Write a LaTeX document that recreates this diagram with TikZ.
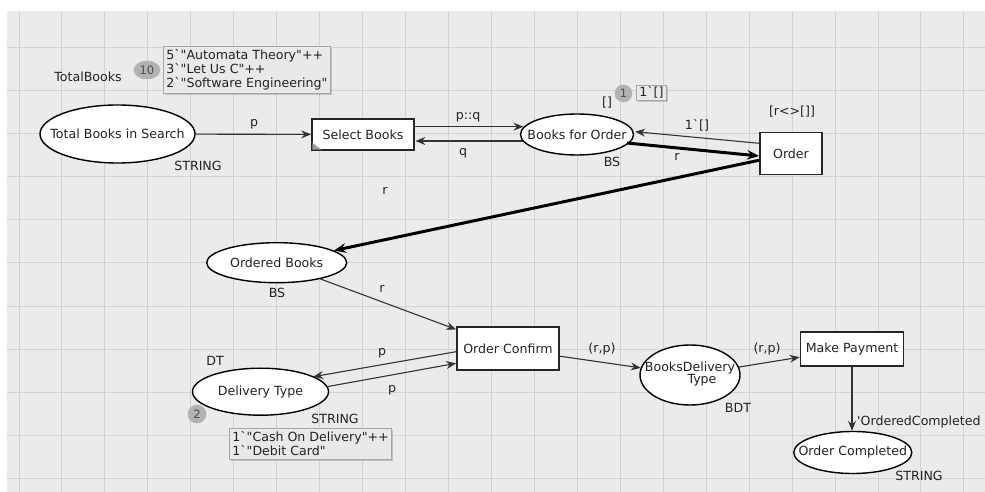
\documentclass[tikz,border=0pt]{standalone}
\usepackage{fontspec}
\setmainfont{DejaVu Sans}[Ligatures=TeXOff]
\usetikzlibrary{shapes.geometric,arrows.meta,calc,shadows}

\definecolor{canvas}{HTML}{EBEBEB}
\definecolor{gridline}{HTML}{D2D2D2}
\definecolor{ink}{HTML}{222222}
\definecolor{markfill}{HTML}{E9E9E9}
\definecolor{markedge}{HTML}{A6A6A6}
\definecolor{tokenfill}{HTML}{B2B2B2}

% place names are set in a zero-width box so the ellipse keeps its given size
\newcommand{\pname}[1]{\makebox[0pt]{#1}}

\begin{document}
\begin{tikzpicture}[x=1bp,y=-1bp,
  font=\fontsize{12.6bp}{14.2bp}\selectfont,
  place/.style={ellipse, draw=black, line width=1.4bp, fill=white, inner sep=0pt, text=ink},
  trans/.style={rectangle, draw=black!85, line width=1.8bp, fill=white, inner sep=0pt, text=ink},
  arc/.style={draw=black!80, line width=1.1bp, -{Stealth[length=10bp,width=8bp,inset=3.5bp]}},
  bigarc/.style={draw=black, line width=3bp, -{Stealth[length=12bp,width=9.5bp,inset=4bp]}},
  lbl/.style={text=ink, inner sep=0pt},
  marking/.style={draw=markedge, fill=markfill, line width=0.8bp, inner xsep=3bp, inner ysep=3.5bp,
    align=left, text=ink, anchor=north west, font=\fontsize{12.6bp}{13.6bp}\selectfont,
    drop shadow={shadow xshift=1.6bp, shadow yshift=-1.6bp, fill=black!35, opacity=0.6}},
  token/.style={ellipse, fill=tokenfill, draw=black!30, line width=0.6bp, inner sep=0pt,
    text=black!70, font=\fontsize{11.5bp}{12bp}\selectfont}
]
\useasboundingbox (0,0) rectangle (985,492);

% canvas and grid
\fill[white] (0,0) rectangle (985,492);
\fill[canvas] (7,11) rectangle (985,492);
\foreach \i in {0,...,22}
  \draw[gridline, line width=1bp] ({19+42.95*\i},11) -- ({19+42.95*\i},492);
\foreach \j in {0,...,10}
  \draw[gridline, line width=1bp] (7,{47.5+43.1*\j}) -- (985,{47.5+43.1*\j});

% places and transitions
\node[place, minimum width=155bp, minimum height=58bp] (tbs) at (117.5,134) {\pname{Total Books in Search}};
\node[trans, minimum width=102bp, minimum height=31bp] (sb) at (363,134.5) {Select Books};
\node[place, minimum width=113bp, minimum height=41bp] (bfo) at (577,134.5) {\pname{Books for Order}};
\node[trans, minimum width=62bp, minimum height=42bp] (ord) at (791,153.5) {Order};
\node[place, minimum width=140bp, minimum height=40bp] (ob) at (276.7,262.7) {\pname{Ordered Books}};
\node[trans, minimum width=102bp, minimum height=43bp] (oc) at (508,348.7) {Order Confirm};
\node[place, minimum width=136bp, minimum height=47bp] (dt) at (260.5,391.7) {\pname{Delivery Type}};
\node[place, minimum width=100bp, minimum height=60bp] (bdt) at (690,375)
  {\pname{\begin{tabular}{@{}c@{}}BooksDelivery\\[-2bp]\hspace*{24bp}Type\end{tabular}}};
\node[trans, minimum width=103bp, minimum height=34bp] (mp) at (852,348.7) {Make Payment};
\node[place, minimum width=118bp, minimum height=42bp] (ocmp) at (852.8,452.5) {\pname{Order Completed}};

% corner tag of Select Books
\fill[black!40] (sb.south west) ++(1.2,-1.2) -- ++(0,-7) -- ++(9,7) -- cycle;

% arcs
\draw[arc] (tbs) -- (sb);
\draw[arc] ($(sb.east)+(0,-7.8)$) -- ($(bfo.west)+(3.6,-7.8)$);
\draw[arc] ($(bfo.west)+(3.2,6.5)$) -- ($(sb.east)+(0.5,6.5)$);
\draw[arc] ($(ord.west)+(0,-10.2)$) -- ($(bfo.east)+(1,-2.8)$);
\draw[bigarc] ($(bfo.center)+(50,8.5)$) -- ($(ord.west)+(0,2.5)$);
\draw[bigarc] (ord) -- (ob);
\draw[arc] (ob) -- (oc);
\draw[arc] ($(oc.west)+(0,3)$) -- ($(dt.center)+(52.8,-15)$);
\draw[arc] ($(dt.center)+(66.5,-5)$) -- ($(oc.west)+(0,14.6)$);
\draw[arc] (oc) -- (bdt);
\draw[arc] (bdt) -- (mp);
\draw[arc] (mp) -- (mp |- ocmp.north);

% arc inscriptions, guard and colour sets
\node[lbl] (ltb) at (88,77) {TotalBooks};
\node[lbl] (l1) at (254,124) {p};
\node[lbl] (l2) at (468,117) {p::q};
\node[lbl] (l3) at (463,153) {q};
\node[lbl] (l4) at (697,125) {1`[]};
\node[lbl] (l5) at (677,157) {r};
\node[lbl] (l6) at (792,112) {[r<>[]]};
\node[lbl] (l7) at (385,191) {r};
\node[lbl] (l8) at (382,289) {r};
\node[lbl] (l9) at (612,162) {BS};
\node[lbl] (l10) at (277,293) {BS};
\node[lbl] (l11) at (607,103) {[]};
\node[lbl] (l12) at (198,166) {STRING};
\node[lbl] (l13) at (602,349) {(r,p)};
\node[lbl] (l14) at (767,349) {(r,p)};
\node[lbl] (l15) at (382,353) {p};
\node[lbl] (l16) at (392,390) {p};
\node[lbl] (l17) at (215,361) {DT};
\node[lbl] (l18) at (335,419) {STRING};
\node[lbl] (l19) at (738,408) {BDT};
\node[lbl, anchor=west] (l20) at (857,422) {'OrderedCompleted};
\node[lbl] (l21) at (919,476) {STRING};

% markings
\node[token, minimum width=26bp, minimum height=18bp] (tk10) at (147,70) {10};
\node[marking] (m1) at (163,46) {5`"Automata Theory"++\\3`"Let Us C"++\\2`"Software Engineering"};
\node[token, minimum size=17bp] (tk1) at (623.5,93.5) {1};
\node[marking, inner xsep=3bp, inner ysep=1.5bp] (m2) at (636,85) {1`[]};
\node[token, minimum size=18bp] (tk2) at (197,414) {2};
\node[marking] (m3) at (229,428) {1`"Cash On Delivery"++\\1`"Debit Card"};
\end{tikzpicture}
\end{document}
